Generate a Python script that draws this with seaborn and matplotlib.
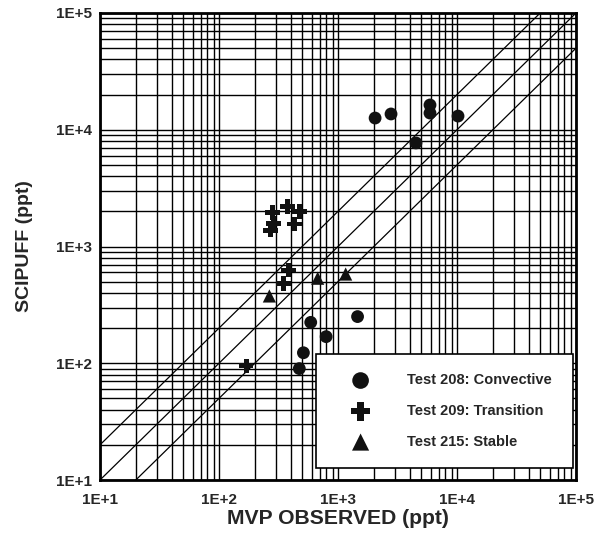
import numpy as np
import pandas as pd
import matplotlib
matplotlib.use("Agg")
import matplotlib.pyplot as plt
import seaborn as sns
from matplotlib.ticker import LogLocator, FixedLocator, FixedFormatter, NullFormatter

# Observed vs. predicted concentrations (ppt)
conv_obs = [2050, 2790, 5930, 5930, 10200, 4520, 590, 795, 512, 473, 1460]
conv_pred = [12600, 13650, 16300, 13900, 13100, 7710, 224, 169, 123, 90, 251]

trans_obs = [282, 378, 473, 286, 272, 430, 382, 347, 169]
trans_pred = [1950, 2190, 1990, 1580, 1380, 1560, 629, 484, 95]

stab_obs = [265, 675, 1160]
stab_pred = [377, 535, 581]

series_labels = ["Test 208: Convective", "Test 209: Transition", "Test 215: Stable"]

# Reference lines: predicted = ratio * observed
ref_ratios = [2.0, 1.0, 0.5]

tick_values = [1e1, 1e2, 1e3, 1e4, 1e5]
tick_labels = ["1E+1", "1E+2", "1E+3", "1E+4", "1E+5"]

df = pd.concat([
    pd.DataFrame({"obs": conv_obs, "pred": conv_pred, "test": series_labels[0]}),
    pd.DataFrame({"obs": trans_obs, "pred": trans_pred, "test": series_labels[1]}),
    pd.DataFrame({"obs": stab_obs, "pred": stab_pred, "test": series_labels[2]}),
], ignore_index=True)

sns.set_style("white")
plt.rcParams["font.family"] = ["Liberation Sans", "DejaVu Sans"]

fig = plt.figure(figsize=(5.95, 5.37), dpi=100)
ax = fig.add_axes([100 / 595, 57 / 537, 476 / 595, 467 / 537])

ax.set_xscale("log")
ax.set_yscale("log")
ax.set_xlim(1e1, 1e5)
ax.set_ylim(1e1, 1e5)

# Dense log grid in black
for axis in (ax.xaxis, ax.yaxis):
    axis.set_major_locator(FixedLocator(tick_values))
    axis.set_major_formatter(FixedFormatter(tick_labels))
    axis.set_minor_locator(LogLocator(base=10, subs=np.arange(2, 10)))
    axis.set_minor_formatter(NullFormatter())
ax.grid(which="both", color="black", linewidth=1.0)
ax.set_axisbelow(True)
ax.tick_params(which="both", length=0)
ax.tick_params(axis="x", pad=9)
ax.tick_params(axis="y", pad=6)
for lab in ax.get_xticklabels() + ax.get_yticklabels():
    lab.set_fontsize(11)
    lab.set_fontweight("bold")

for sp in ax.spines.values():
    sp.set_color("black")
    sp.set_linewidth(2.0)

# Factor-of-two band and 1:1 line
xr = np.array([1e1, 1e5])
for r in ref_ratios:
    ax.plot(xr, r * xr, color="black", linewidth=0.9, zorder=2)

markers = {series_labels[0]: "o", series_labels[1]: "P", series_labels[2]: "^"}
sizes = {series_labels[0]: 85, series_labels[1]: 110, series_labels[2]: 90}
for lab in series_labels:
    sns.scatterplot(data=df[df["test"] == lab], x="obs", y="pred", ax=ax,
                    marker=markers[lab], s=sizes[lab], color="#111111",
                    edgecolor="none", label=lab, zorder=3)

ax.set_xlabel("MVP OBSERVED (ppt)", fontsize=15.2, fontweight="bold", labelpad=2)
ax.set_ylabel("SCIPUFF (ppt)", fontsize=14, fontweight="bold", labelpad=16)

leg = ax.legend(loc="lower left", bbox_to_anchor=(0.454, 0.026, 0.540, 0.246),
                mode="expand", borderaxespad=0, frameon=True, fancybox=False,
                framealpha=1, edgecolor="black", markerscale=1.3, borderpad=1.3,
                labelspacing=1.15, handlelength=3.5, handletextpad=1.4,
                prop={"family": ["Liberation Sans"], "weight": "bold", "size": 10.5})
leg.get_frame().set_linewidth(1.2)
leg.set_zorder(5)

fig.savefig("out.png", dpi=100)
